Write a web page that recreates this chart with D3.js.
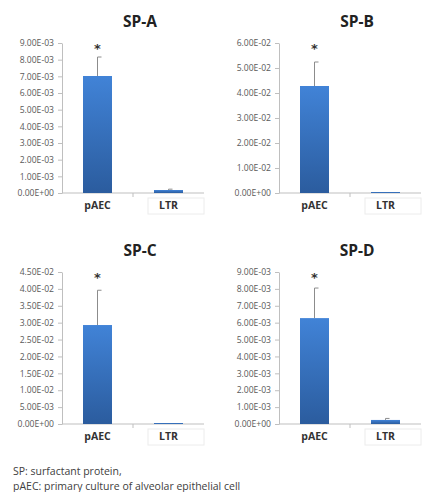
<!DOCTYPE html>
<html>
<head>
<meta charset="utf-8">
<script src="https://cdn.jsdelivr.net/npm/d3@7"></script>
<style>
  body { margin: 0; background: #fff; }
  svg { display: block; }
</style>
</head>
<body>
<div id="vis"></div>
<script>
// chart values
let panels = ["SP-A", "SP-B", "SP-C", "SP-D"];
let categories = ["pAEC", "LTR"];
let means = [[7.02e-3, 0.18e-3], [4.28e-2, 0.03e-2], [2.93e-2, 0.02e-2], [6.27e-3, 0.24e-3]];
let errors = [[1.14e-3, 0.05e-3], [0.96e-2, 0], [1.03e-2, 0], [1.78e-3, 0.09e-3]];
let yMax = [9e-3, 6e-2, 4.5e-2, 9e-3];
let yStep = [1e-3, 1e-2, 0.5e-2, 1e-3];
let stars = [true, true, true, true];
let notes = ["SP: surfactant protein,", "pAEC: primary culture of alveolar epithelial cell"];

let width = 424, height = 492;
// panel frame positions (axis origin)
let origins = [{x: 62, y: 193, top: 43}, {x: 279, y: 193, top: 43},
               {x: 62, y: 424, top: 272}, {x: 279, y: 424, top: 272}];
let plotW = 142;

let svg = d3.select("#vis").append("svg")
  .attr("width", width).attr("height", height);

let grad = svg.append("defs").append("linearGradient")
  .attr("id", "barGrad").attr("x1", 0).attr("x2", 0).attr("y1", 0).attr("y2", 1);
grad.append("stop").attr("offset", "0%").attr("stop-color", "#4183d7");
grad.append("stop").attr("offset", "100%").attr("stop-color", "#2b5c9e");

function sciFormat(v) {
  let s = v.toExponential(2);  // e.g. 9.00e-3
  let [m, e] = s.split("e");
  let sign = e[0] == "-" ? "-" : "+";
  let n = Math.abs(+e);
  return m + "E" + sign + (n < 10 ? "0" + n : n);
}

panels.forEach((name, p) => {
  let o = origins[p];
  let g = svg.append("g").attr("transform", "translate(" + o.x + ",0)");

  let x = d3.scaleBand().domain(categories).range([0, plotW]).paddingInner(0).paddingOuter(0);
  let y = d3.scaleLinear().domain([0, yMax[p]]).range([o.y, o.top]);

  let ticks = d3.range(0, yMax[p] + yStep[p] / 2, yStep[p]);

  // y axis
  let yAxis = d3.axisLeft(y).tickValues(ticks).tickFormat(sciFormat)
    .tickSize(4).tickSizeOuter(0).tickPadding(4);
  g.append("g").call(yAxis)
    .call(a => a.select(".domain").attr("stroke", "#bfbfbf"))
    .call(a => a.selectAll(".tick line").attr("stroke", "#bfbfbf"))
    .call(a => a.selectAll("text")
      .attr("font-family", "Open Sans, sans-serif")
      .attr("font-size", 8.6)
      .attr("fill", "#595959"));

  // baseline and category divider ticks
  g.append("line").attr("x1", 0).attr("x2", plotW)
    .attr("y1", o.y).attr("y2", o.y).attr("stroke", "#bfbfbf");
  g.append("line").attr("x1", x.bandwidth()).attr("x2", x.bandwidth())
    .attr("y1", o.y).attr("y2", o.y + 4).attr("stroke", "#bfbfbf");

  // faint label box around LTR (as in the source image)
  g.append("rect")
    .attr("x", x("LTR") + 15).attr("y", o.y + 5)
    .attr("width", x.bandwidth() - 15).attr("height", 16)
    .attr("fill", "none").attr("stroke", "#ececec");

  let barW = 29;
  let data = categories.map((c, i) => ({c: c, v: means[p][i], e: errors[p][i]}));

  // error bars (upper only)
  g.selectAll(".err").data(data.filter(d => d.e > 0)).join("g")
    .attr("class", "err")
    .each(function(d) {
      let cx = x(d.c) + x.bandwidth() / 2;
      let e = d3.select(this);
      e.append("line").attr("x1", cx).attr("x2", cx)
        .attr("y1", y(d.v)).attr("y2", y(d.v + d.e))
        .attr("stroke", "#8c8c8c").attr("stroke-width", 1);
      e.append("line").attr("x1", cx).attr("x2", cx + 4)
        .attr("y1", y(d.v + d.e)).attr("y2", y(d.v + d.e))
        .attr("stroke", "#8c8c8c").attr("stroke-width", 1);
    });

  g.selectAll(".bar").data(data).join("rect")
    .attr("class", "bar")
    .attr("x", d => x(d.c) + (x.bandwidth() - barW) / 2)
    .attr("width", barW)
    .attr("y", d => Math.min(y(d.v), o.y - 1))
    .attr("height", d => Math.max(o.y - y(d.v), 1))
    .attr("fill", "url(#barGrad)");

  // category labels
  g.selectAll(".cat").data(categories).join("text")
    .attr("class", "cat")
    .attr("x", d => x(d) + x.bandwidth() / 2)
    .attr("y", o.y + 16)
    .attr("text-anchor", "middle")
    .attr("font-family", "Open Sans, sans-serif")
    .attr("font-weight", "bold")
    .attr("font-size", 10.5)
    .attr("fill", "#333")
    .text(d => d);

  // significance star
  if (stars[p]) {
    g.append("text")
      .attr("x", x("pAEC") + x.bandwidth() / 2)
      .attr("y", o.top + 10)
      .attr("text-anchor", "middle")
      .attr("font-family", "DejaVu Sans, sans-serif")
      .attr("font-weight", "bold")
      .attr("font-size", 13)
      .attr("fill", "#333")
      .text("*");
  }

  // panel title
  g.append("text")
    .attr("x", 78)
    .attr("y", o.top - 16)
    .attr("text-anchor", "middle")
    .attr("font-family", "Open Sans, sans-serif")
    .attr("font-weight", "bold")
    .attr("font-size", 15.5)
    .attr("fill", "#222")
    .text(name);
});

// footnote
svg.selectAll(".note").data(notes).join("text")
  .attr("class", "note")
  .attr("x", 13)
  .attr("y", (d, i) => 475 + i * 15)
  .attr("font-family", "Open Sans, sans-serif")
  .attr("font-size", 10.5)
  .attr("fill", "#404040")
  .text(d => d);
</script>
</body>
</html>
